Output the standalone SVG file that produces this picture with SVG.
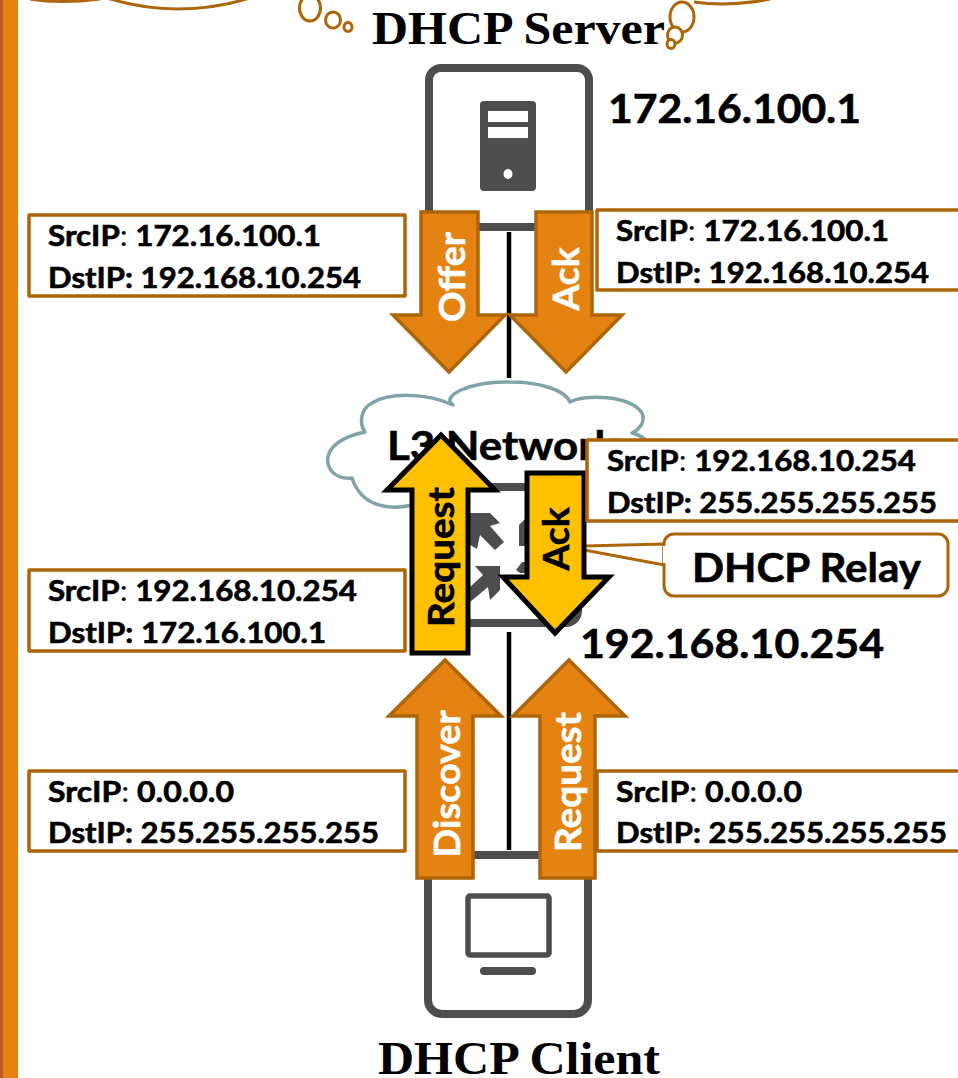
<svg xmlns="http://www.w3.org/2000/svg" width="958" height="1078" viewBox="0 0 958 1078">
<style>
.b{font-family:Lato,"Liberation Sans",sans-serif;font-weight:700;fill:#000;stroke:#000;stroke-width:.6}
.info{fill:#fff;stroke:#AE6508;stroke-width:3.5;stroke-linejoin:round}
.t{font-size:28px}
.title{font-family:"Liberation Serif",serif;font-weight:700;font-size:46px;fill:#000}
.oa{fill:#E48312;stroke:#AE6508;stroke-width:3.5}
.ya{fill:#FFC000;stroke:#000;stroke-width:5}
.lbl{font-size:36px;text-anchor:middle}
.wt{fill:#fff;stroke:#fff}
.w{fill:#fff}
.dev{fill:#fff;stroke:#4D4D4D;stroke-width:8}
.g{fill:#4D4D4D}
.bub{fill:#fff;stroke:#AE6508;stroke-width:3}
.reg{font-weight:400;stroke:none}
</style>
<rect width="958" height="1078" fill="#fff"/>
<g id="stripe"><rect x="0" y="0" width="18" height="1078" fill="#E48312"/><rect x="0" y="0" width="3" height="1078" fill="#BD5B2A"/></g>
<g id="thought-clouds" fill="none" stroke="#AE6508" stroke-width="3">
<path d="M30 -1Q60 4 100 -1"/><path d="M107 -2Q178 20 250 -2"/><path d="M694 2Q730 7 770 -1"/>
<ellipse class="bub" cx="310" cy="8" rx="10.500" ry="13"/><ellipse class="bub" cx="333" cy="20" rx="7.500" ry="8"/><ellipse class="bub" cx="348" cy="27" rx="4" ry="4.500"/>
<ellipse class="bub" cx="682" cy="17" rx="12" ry="15"/><ellipse class="bub" cx="675" cy="35" rx="7.500" ry="8"/><ellipse class="bub" cx="671" cy="44" rx="4" ry="4.500"/>
</g>
<g id="connectors"><path d="M509 232V378M509 632V850" stroke="#000" stroke-width="4.500" fill="none"/></g>
<g id="server">
<text class="title" x="372" y="44" textLength="293" lengthAdjust="spacingAndGlyphs">DHCP Server</text>
<rect class="dev" x="429" y="68" width="160" height="159" rx="12"/>
<rect class="g" x="480" y="101" width="56" height="90" rx="4"/><rect class="w" x="488" y="111" width="40" height="11"/><rect class="w" x="488" y="127" width="40" height="11"/><ellipse class="w" cx="508" cy="174" rx="4.500" ry="5"/>
<text class="b" x="608" y="123" font-size="40" textLength="253" lengthAdjust="spacingAndGlyphs">172.16.100.1</text>
</g>
<g id="cloud">
<path d="M365 432C358 422 362 408 372 403C388 393 425 392 453 405C440 396 470 381 510 382C540 382 565 390 570 402C585 394 630 395 642 413C645 420 642 428 632 433C660 440 660 470 630 480C620 510 580 505 560 500C530 515 470 515 413 505C390 510 362 508 352 478C335 480 326 468 328 457C330 445 345 436 365 432Z" fill="#fff" stroke="#7FA3A6" stroke-width="3.500" stroke-linejoin="round"/>
<text class="b" x="387" y="460" font-size="40" textLength="231" lengthAdjust="spacingAndGlyphs">L3 Network</text>
</g>
<g id="relay">
<rect x="443" y="487" width="135" height="136" rx="12" fill="#fff" stroke="#4D4D4D" stroke-width="8"/>
<g fill="#4D4D4D">
<path d="M470 513H490L500 523L490 526L504 542L495 550L480 535L477 549L470 545Z"/>
<path d="M500 566H475L483 575L470 587V602L488 587L490 600L500 590Z"/>
<path d="M526 518L519 525V546H526Z"/>
<path d="M516 570L522 562H526V573H520Z"/>
</g>
<path d="M584 546L664 544V565L584 550Z" fill="#fff" stroke="#AE6508" stroke-width="3"/>
<text class="b" x="580" y="658" font-size="40" textLength="304" lengthAdjust="spacingAndGlyphs">192.168.10.254</text>
</g>
<g id="client">
<rect class="dev" x="428" y="855" width="160" height="159" rx="14"/>
<rect x="468" y="896" width="81" height="59" rx="2" fill="#fff" stroke="#4D4D4D" stroke-width="5.500"/>
<rect class="g" x="480" y="967" width="56" height="8" rx="4"/>
<text class="title" x="378" y="1074" textLength="282" lengthAdjust="spacingAndGlyphs">DHCP Client</text>
</g>
<g id="arrow-offer"><path class="oa" d="M421 212H478V315H505L449 372L393 315H421Z"/><text class="b lbl wt" transform="translate(465 277) rotate(-90)" textLength="90" lengthAdjust="spacingAndGlyphs">Offer</text></g>
<g id="arrow-ack-top"><path class="oa" d="M536 212H592V315H622L566 372L510 315H536Z"/><text class="b lbl wt" transform="translate(579 279) rotate(-90)" textLength="63" lengthAdjust="spacingAndGlyphs">Ack</text></g>
<g id="arrow-discover"><path class="oa" d="M417 878V716H389L445 660L501 716H473V878Z"/><text class="b lbl wt" transform="translate(460 784) rotate(-90)" textLength="147" lengthAdjust="spacingAndGlyphs">Discover</text></g>
<g id="arrow-request-bottom"><path class="oa" d="M540 878V716H513L569 660L625 716H595V878Z"/><text class="b lbl wt" transform="translate(581 782) rotate(-90)" textLength="140" lengthAdjust="spacingAndGlyphs">Request</text></g>
<g id="arrow-request-relay"><path class="ya" d="M412 653V490H387L441 435L495 490H468V653Z"/><text class="b lbl" transform="translate(454 557) rotate(-90)" textLength="140" lengthAdjust="spacingAndGlyphs">Request</text></g>
<g id="arrow-ack-relay"><path class="ya" d="M527 473H584V577H609L555 633L503 577H527Z"/><text class="b lbl" transform="translate(569 539) rotate(-90)" textLength="63" lengthAdjust="spacingAndGlyphs">Ack</text></g>
<g id="info-offer"><rect class="info" x="29" y="215" width="376" height="81"/><text class="b t" x="48" y="246" textLength="273" lengthAdjust="spacingAndGlyphs">SrcIP<tspan class="reg">:</tspan> 172.16.100.1</text><text class="b t" x="48" y="288" textLength="313" lengthAdjust="spacingAndGlyphs">DstIP: 192.168.10.254</text></g>
<g id="info-ack-top"><rect class="info" x="597" y="210" width="366" height="80"/><text class="b t" x="616" y="241" textLength="273" lengthAdjust="spacingAndGlyphs">SrcIP<tspan class="reg">:</tspan> 172.16.100.1</text><text class="b t" x="616" y="283" textLength="313" lengthAdjust="spacingAndGlyphs">DstIP: 192.168.10.254</text></g>
<g id="info-ack-relay"><rect class="info" x="587" y="440" width="376" height="81"/><text class="b t" x="607" y="471" textLength="309" lengthAdjust="spacingAndGlyphs">SrcIP<tspan class="reg">:</tspan> 192.168.10.254</text><text class="b t" x="607" y="513" textLength="330" lengthAdjust="spacingAndGlyphs">DstIP: 255.255.255.255</text></g>
<g id="info-request-relay"><rect class="info" x="29" y="570" width="376" height="81"/><text class="b t" x="48" y="601" textLength="309" lengthAdjust="spacingAndGlyphs">SrcIP<tspan class="reg">:</tspan> 192.168.10.254</text><text class="b t" x="48" y="643" textLength="278" lengthAdjust="spacingAndGlyphs">DstIP: 172.16.100.1</text></g>
<g id="info-discover"><rect class="info" x="29" y="771" width="376" height="80"/><text class="b t" x="48" y="802" textLength="186" lengthAdjust="spacingAndGlyphs">SrcIP<tspan class="reg">:</tspan> 0.0.0.0</text><text class="b t" x="48" y="843" textLength="331" lengthAdjust="spacingAndGlyphs">DstIP: 255.255.255.255</text></g>
<g id="info-request"><rect class="info" x="597" y="771" width="366" height="80"/><text class="b t" x="616" y="802" textLength="186" lengthAdjust="spacingAndGlyphs">SrcIP<tspan class="reg">:</tspan> 0.0.0.0</text><text class="b t" x="616" y="843" textLength="331" lengthAdjust="spacingAndGlyphs">DstIP: 255.255.255.255</text></g>
<g id="callout-relay"><rect x="664" y="534" width="284" height="62" rx="10" fill="#fff" stroke="#AE6508" stroke-width="3"/><path d="M665 546V563" stroke="#fff" stroke-width="4"/><text class="b" x="692" y="582" font-size="40" textLength="229" lengthAdjust="spacingAndGlyphs">DHCP Relay</text></g>
</svg>
